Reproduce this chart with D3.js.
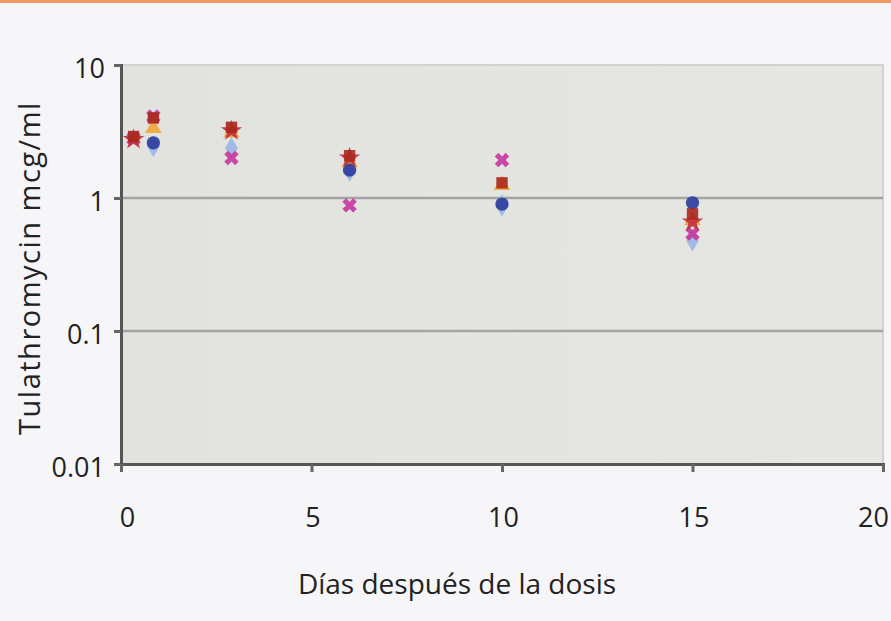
<!DOCTYPE html>
<html><head><meta charset="utf-8">
<script src="https://cdn.jsdelivr.net/npm/d3@7/dist/d3.min.js"></script>
<style>body{margin:0;background:#f6f6f8;}svg{display:block;}</style>
</head><body><svg id="c" width="891" height="621"></svg>
<script>
const days = [0.33, 0.85, 2.9, 6, 10, 15];
const sA = [2.9, 4.0, 3.4, 2.08, 1.3, 0.76];   // dark red square
const sB = [null, 2.6, null, 1.62, 0.9, 0.92];  // blue circle
const sC = [null, 3.35, 3.1, 1.85, 1.25, 0.68]; // orange triangle
const sD = [2.8, 4.1, 2.0, 0.88, 1.93, 0.54];   // magenta X
const sE = [null, 2.45, 2.38, 1.6, 0.88, 0.48]; // light blue diamond
const sF = [2.75, null, 3.2, 2.0, null, 0.66];  // red star
const yTicks = [10, 1, 0.1, 0.01];
const xTicks = [0, 5, 10, 15, 20];

const svg = d3.select("#c");
const x = d3.scaleLinear().domain([0,20]).range([121,883]);
const y = d3.scaleLog().domain([0.01,10]).range([464,65]);
const font = "'Open Sans', sans-serif";

svg.append("rect").attr("x",0).attr("y",0).attr("width",891).attr("height",3).attr("fill","#ef9a62");

const grad = svg.append("defs").append("linearGradient").attr("id","g").attr("x1","0").attr("x2","1");
grad.append("stop").attr("offset","0").attr("stop-color","#e2e3df");
grad.append("stop").attr("offset","1").attr("stop-color","#e6e6e3");
svg.append("rect").attr("x",x(0)).attr("y",y(10)).attr("width",x(20)-x(0)).attr("height",y(0.01)-y(10))
  .attr("fill","url(#g)").attr("stroke","#d2d2d0").attr("stroke-width",2);

svg.append("g").selectAll("line").data([1,0.1]).join("line")
  .attr("x1",x(0)).attr("x2",x(20)).attr("y1",d=>y(d)).attr("y2",d=>y(d))
  .attr("stroke","#a4a4a2").attr("stroke-width",2.5);

const yAxis = svg.append("g").attr("transform",`translate(${x(0)},0)`)
  .call(d3.axisLeft(y).tickValues(yTicks).tickFormat(d=>String(d)).tickSize(7).tickPadding(9));
const xAxis = svg.append("g").attr("transform",`translate(0,${y(0.01)})`)
  .call(d3.axisBottom(x).tickValues(xTicks).tickSize(8).tickPadding(36));
[yAxis,xAxis].forEach(a=>{
  a.select(".domain").attr("stroke","#555").attr("stroke-width",3);
  a.selectAll(".tick line").attr("stroke","#666").attr("stroke-width",3);
  a.selectAll(".tick text").attr("fill","#222").style("font-family",font).style("font-size","27px");
});
xAxis.selectAll(".tick text").attr("dx",d=>d===0?"6":(d===20?"-10":"1"));
yAxis.selectAll(".tick text").attr("dy","0.45em");

svg.append("text").attr("x",457).attr("y",594).attr("text-anchor","middle")
  .style("font-family",font).style("font-size","28px").attr("fill","#222")
  .text("Días después de la dosis");
svg.append("text").attr("transform","translate(40,268) rotate(-90)").attr("text-anchor","middle")
  .style("font-family",font).style("font-size","29px").attr("fill","#222").attr("letter-spacing","1.5")
  .text("Tulathromycin mcg/ml");

const series = [
  {v:sE, sym:d3.symbolDiamond, col:"#9ab6e6", size:140},
  {v:sD, sym:d3.symbolCross, col:"#c8359e", size:130, rot:45},
  {v:sC, sym:d3.symbolTriangle, col:"#f0a63a", size:120},
  {v:sB, sym:d3.symbolCircle, col:"#2b3c9c", size:140},
  {v:sF, sym:d3.symbolStar, col:"#c0303a", size:140},
  {v:sA, sym:d3.symbolSquare, col:"#a8281e", size:130},
];
series.forEach(s=>{
  svg.append("g").selectAll("path").data(days.map((d,i)=>({d, v:s.v[i]})).filter(p=>p.v!=null)).join("path")
    .attr("d", d3.symbol().type(s.sym).size(s.size))
    .attr("transform", p=>`translate(${x(p.d)},${y(p.v)}) rotate(${s.rot||0})`)
    .attr("fill", s.col).attr("opacity",0.9);
});
</script></body></html>
